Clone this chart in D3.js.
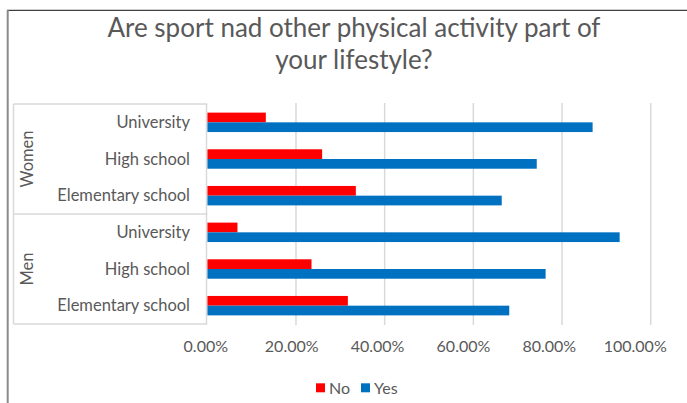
<!DOCTYPE html>
<html>
<head>
<meta charset="utf-8">
<script src="https://cdn.jsdelivr.net/npm/d3@7"></script>
<style>
  html, body { margin: 0; padding: 0; background: #fff; }
  svg { display: block; }
  text { font-family: Lato, "Open Sans", sans-serif; fill: #595959; }
</style>
</head>
<body>
<svg id="chart" width="687" height="403"></svg>
<script>
// Survey answers by gender and school level
const titleLines = ["Are sport nad other physical activity part of", "your lifestyle?"];
const groups = ["Women", "Men"];
const levels = ["University", "High school", "Elementary school"];
const seriesNames = ["No", "Yes"];
const seriesColors = ["#FF0000", "#0070C0"];
// rows in order: Women (University, High school, Elementary school), Men (same)
const noValues  = [0.132, 0.259, 0.335, 0.068, 0.235, 0.317];
const yesValues = [0.869, 0.743, 0.664, 0.930, 0.763, 0.681];
const tickValues = [0, 0.2, 0.4, 0.6, 0.8, 1.0];

const rows = [];
groups.forEach((g, gi) => levels.forEach((l, li) => {
  const i = gi * levels.length + li;
  rows.push({ key: g + "|" + l, group: g, level: l, No: noValues[i], Yes: yesValues[i] });
}));

const svg = d3.select("#chart");
const W = 687, H = 403;

// outer frame (top and left edges)
svg.append("line").attr("x1", 7).attr("x2", W).attr("y1", 9.5).attr("y2", 9.5)
  .attr("stroke", "#cfcfcf").attr("stroke-width", 1);
svg.append("line").attr("x1", 7).attr("x2", W).attr("y1", 10.5).attr("y2", 10.5)
  .attr("stroke", "#404040").attr("stroke-width", 1);
svg.append("line").attr("x1", 7.7).attr("x2", 7.7).attr("y1", 10).attr("y2", H)
  .attr("stroke", "#8a8a8a").attr("stroke-width", 2);

// title
svg.append("text")
  .attr("x", 354).attr("y", 37)
  .attr("text-anchor", "middle")
  .style("font-size", "26px")
  .selectAll("tspan").data(titleLines).join("tspan")
  .attr("x", 354).attr("dy", (d, i) => i === 0 ? 0 : 32)
  .text(d => d);

const plot = { left: 207.3, right: 650.7, top: 104, bottom: 324 };

const x = d3.scaleLinear().domain([0, 1]).range([plot.left, plot.right]);
const y = d3.scaleBand().domain(rows.map(r => r.key))
  .range([plot.top, plot.bottom]).paddingInner(0.47).paddingOuter(0.235);
const ySeries = d3.scaleBand().domain(seriesNames).range([0, y.bandwidth()]);
const color = d3.scaleOrdinal().domain(seriesNames).range(seriesColors);

// vertical gridlines
svg.append("g")
  .selectAll("line").data(tickValues.slice(1)).join("line")
  .attr("x1", d => x(d)).attr("x2", d => x(d))
  .attr("y1", plot.top - 1).attr("y2", plot.bottom + 1)
  .attr("stroke", "#d9d9d9").attr("stroke-width", 1.5);

// bars
const rowG = svg.append("g").selectAll("g").data(rows).join("g")
  .attr("transform", d => `translate(0,${y(d.key)})`);
rowG.selectAll("rect").data(d => seriesNames.map(s => ({ s, v: d[s] }))).join("rect")
  .attr("x", x(0))
  .attr("y", d => ySeries(d.s))
  .attr("width", d => x(d.v) - x(0))
  .attr("height", ySeries.bandwidth())
  .attr("fill", d => color(d.s));

// category axis box with a divider between the two groups
const boxLeft = 13.5;
const axisG = svg.append("g");
const groupEdges = [plot.top, plot.top + y.step() * levels.length, plot.bottom];
axisG.selectAll("line.h").data(groupEdges).join("line").attr("class", "h")
  .attr("x1", boxLeft).attr("x2", x(0)).attr("y1", d => d).attr("y2", d => d)
  .attr("stroke", "#d9d9d9").attr("stroke-width", 1.5);
axisG.append("line").attr("x1", boxLeft).attr("x2", boxLeft)
  .attr("y1", plot.top).attr("y2", plot.bottom)
  .attr("stroke", "#d9d9d9").attr("stroke-width", 1.5);
axisG.append("line").attr("x1", x(0) - 0.8).attr("x2", x(0) - 0.8)
  .attr("y1", plot.top).attr("y2", plot.bottom)
  .attr("stroke", "#d9d9d9").attr("stroke-width", 1.5);

// level labels
svg.append("g").selectAll("text").data(rows).join("text")
  .attr("x", 190)
  .attr("y", d => y(d.key) + y.bandwidth() / 2)
  .attr("dy", "0.35em")
  .attr("text-anchor", "end")
  .style("font-size", "16.5px")
  .text(d => d.level);

// group labels (rotated)
svg.append("g").selectAll("text").data(groups).join("text")
  .attr("transform", (d, i) => {
    const cy = (groupEdges[i] + groupEdges[i + 1]) / 2;
    return `translate(27,${cy}) rotate(-90)`;
  })
  .attr("dy", "0.35em")
  .attr("text-anchor", "middle")
  .style("font-size", "16.5px")
  .text(d => d);

// value axis labels
const xLabel = d3.scaleLinear().domain([0, 1]).range([x(0) - 2, x(1) - 16]);
const xAxis = d3.axisBottom(xLabel).tickValues(tickValues).tickSize(0).tickPadding(0)
  .tickFormat(d3.format(".2%"));
const xa = svg.append("g").attr("transform", "translate(0,341)").call(xAxis);
xa.select(".domain").remove();
xa.selectAll("text").attr("dy", "0.71em").style("font-size", "16px")
  .style("font-family", "Lato, 'Open Sans', sans-serif").attr("fill", "#595959");

// legend
const legend = svg.append("g");
const legendPos = [316, 361];
seriesNames.forEach((s, i) => {
  legend.append("rect").attr("x", legendPos[i]).attr("y", 383.3)
    .attr("width", 9).attr("height", 9).attr("fill", color(s));
  legend.append("text").attr("x", legendPos[i] + 13).attr("y", 388)
    .attr("dy", "0.35em").style("font-size", "16px").text(s);
});
</script>
</body>
</html>
